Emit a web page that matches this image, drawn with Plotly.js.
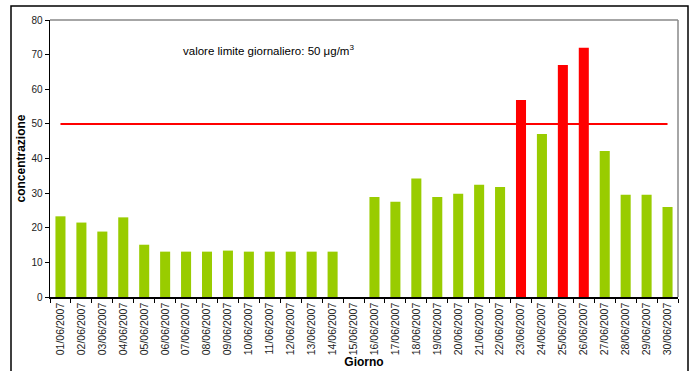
<!DOCTYPE html>
<html>
<head>
<meta charset="utf-8">
<script src="https://cdn.plot.ly/plotly-3.0.1.min.js"></script>
<style>
html,body{margin:0;padding:0;background:#fff;}
#chart{width:696px;height:371px;}
</style>
</head>
<body>
<div id="chart"></div>
<script>
const days = ["01/06/2007","02/06/2007","03/06/2007","04/06/2007","05/06/2007","06/06/2007","07/06/2007","08/06/2007","09/06/2007","10/06/2007","11/06/2007","12/06/2007","13/06/2007","14/06/2007","15/06/2007","16/06/2007","17/06/2007","18/06/2007","19/06/2007","20/06/2007","21/06/2007","22/06/2007","23/06/2007","24/06/2007","25/06/2007","26/06/2007","27/06/2007","28/06/2007","29/06/2007","30/06/2007"];
const concentrazione = [23.3,21.5,18.9,23.0,15.1,13.1,13.1,13.1,13.4,13.1,13.1,13.1,13.1,13.1,null,28.9,27.5,34.2,28.9,29.8,32.4,31.8,56.9,47.1,67.0,72.0,42.2,29.5,29.5,26.0];
const LIMIT = 50;
const limitLine = [LIMIT, LIMIT];
const limitX = [days[0], days[days.length-1]];

const green = "#99CC00", red = "#FF0000";
const barColors = concentrazione.map(v => (v !== null && v > LIMIT) ? red : green);

const font = "Liberation Sans, Arial, sans-serif";

const W = 696, H = 371, L = 50, R = 18, T = 20, B = 74;
const pw = W - L - R, ph = H - T - B;
const px = x => (x - L) / pw;
const py = y => (H - B - y) / ph;

const data = [
  {type:"bar", x:days, y:concentrazione, marker:{color:barColors}, hoverinfo:"x+y", showlegend:false},
  {type:"scatter", mode:"lines", x:limitX, y:limitLine, line:{color:red, width:2}, showlegend:false, hoverinfo:"y"}
];

const layout = {
  width:W, height:H,
  margin:{l:L, r:R, t:T, b:B, pad:0},
  paper_bgcolor:"#fff", plot_bgcolor:"#fff",
  bargap:0.52,
  font:{family:font, color:"#000"},
  xaxis:{
    type:"category", tickangle:-90, tickson:"boundaries",
    ticks:"outside", ticklen:4, tickcolor:"#000", tickwidth:1,
    showline:true, linecolor:"#000", linewidth:1.5,
    showgrid:false, zeroline:false,
    tickfont:{size:10.5, color:"#222", family:font},
    title:{text:"<b>Giorno</b>", font:{size:12, family:font, color:"#000"}, standoff:3}
  },
  yaxis:{
    range:[0,80], dtick:10, ticks:"outside", ticklen:4, tickcolor:"#000",
    showline:true, linecolor:"#000", linewidth:1.5,
    showgrid:false, zeroline:false,
    tickfont:{size:10, color:"#222", family:font},
    title:{text:"<b>concentrazione</b>", font:{size:12, family:font, color:"#000"}, standoff:3}
  },
  shapes:[
    {type:"line", xref:"paper", yref:"paper", x0:0, x1:1, y0:1, y1:1, line:{color:"#888", width:1.5}},
    {type:"line", xref:"paper", yref:"paper", x0:1, x1:1, y0:0, y1:1, line:{color:"#888", width:1.5}},
    {type:"rect", xref:"paper", yref:"paper", x0:px(11), x1:px(688), y0:py(390), y1:py(6), line:{color:"#000", width:1.5}, fillcolor:"rgba(0,0,0,0)"}
  ],
  annotations:[
    {xref:"paper", yref:"paper", x:px(181), y:py(50), xanchor:"left", yanchor:"middle", showarrow:false,
     text:"valore limite giornaliero: 50 μg/m<sup>3</sup>", font:{size:11.5, family:font, color:"#000"}}
  ]
};

Plotly.newPlot("chart", data, layout, {displayModeBar:false, staticPlot:true});
</script>
</body>
</html>
